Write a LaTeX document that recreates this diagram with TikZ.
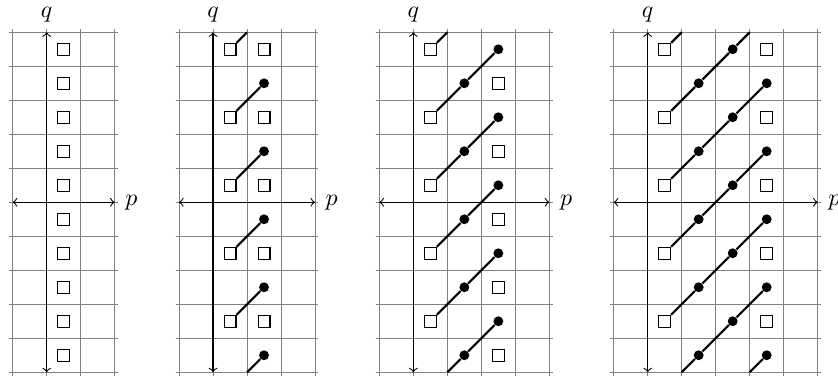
\documentclass[tikz,border=0pt]{standalone}
\begin{document}
\tikzset{
  sq/.style={draw,fill=white,line width=0.45pt,minimum size=0.175cm,inner sep=0pt},
  dotn/.style={circle,fill=black,minimum size=0.145cm,inner sep=0pt},
  link/.style={line width=0.9pt},
  gridl/.style={gray,line width=0.4pt,step=0.5cm},
  axis/.style={<->,line width=0.45pt},
  lbl/.style={inner sep=0pt}
}
\begin{tikzpicture}[x=0.5cm,y=0.5cm]
\useasboundingbox (0,-5.14) rectangle (24.65,5.95);
% ---------- panel 1
\begin{scope}[shift={(1.373,0)}]
  \draw[gridl] (-1.1,-5.1) grid (2.1,5.1);
  \coordinate (a1l) at (-1,0); \coordinate (a1r) at (2,0);
  \coordinate (a1b) at (0,-5); \coordinate (a1t) at (0,5);
  \draw[axis] (a1l) -- (a1r);
  \draw[axis] (a1b) -- (a1t);
  \node[lbl,anchor=west] (p1) at (2.3,0) {$p$};
  \node[lbl] (q1) at (0,5.52) {$q$};
  \foreach \k in {-5,...,4} \node[sq] (s1\k) at (0.5,\k+0.5) {};
\end{scope}
% ---------- panel 2
\begin{scope}[shift={(6.266,0)}]
  \draw[gridl] (-1.1,-5.1) grid (3.1,5.1);
  \coordinate (a2l) at (-1,0); \coordinate (a2r) at (3,0);
  \coordinate (a2b) at (0,-5); \coordinate (a2t) at (0,5);
  \draw[axis] (a2l) -- (a2r);
  \draw[axis] (a2b) -- (a2t);
  \node[lbl,anchor=west] (p2) at (3.3,0) {$p$};
  \node[lbl] (q2) at (0,5.52) {$q$};
  \foreach \j in {-2,...,2} {
    \node[sq] (p2a\j) at (0.5,2*\j+0.5) {};
    \node[sq] (p2e\j) at (1.5,2*\j+0.5) {};
    \node[dotn] (p2b\j) at (1.5,2*\j-0.5) {};
  }
  \coordinate (p2top) at (1,5); \coordinate (p2bot) at (1,-5);
  \draw[link] (p2a2) -- (p2top);
  \draw[link] (p2bot) -- (p2b-2);
  \foreach \j [evaluate=\j as \n using int(\j+1)] in {-2,...,1}
    \draw[link] (p2a\j) -- (p2b\n);
\end{scope}
% ---------- panel 3
\begin{scope}[shift={(12.159,0)}]
  \draw[gridl] (-1.1,-5.1) grid (4.1,5.1);
  \coordinate (a3l) at (-1,0); \coordinate (a3r) at (4,0);
  \coordinate (a3b) at (0,-5); \coordinate (a3t) at (0,5);
  \draw[axis] (a3l) -- (a3r);
  \draw[axis] (a3b) -- (a3t);
  \node[lbl,anchor=west] (p3) at (4.3,0) {$p$};
  \node[lbl] (q3) at (0,5.52) {$q$};
  \foreach \j in {-2,...,2} {
    \node[sq] (p3a\j) at (0.5,2*\j+0.5) {};
    \node[dotn] (p3b\j) at (1.5,2*\j-0.5) {};
    \node[dotn] (p3c\j) at (2.5,2*\j+0.5) {};
    \node[sq] (p3d\j) at (2.5,2*\j-0.5) {};
  }
  \coordinate (p3top) at (1,5); \coordinate (p3bot) at (1,-5);
  \draw[link] (p3a2) -- (p3top);
  \draw[link] (p3bot) -- (p3b-2) -- (p3c-2);
  \foreach \j [evaluate=\j as \n using int(\j+1)] in {-2,...,1}
    \draw[link] (p3a\j) -- (p3b\n) -- (p3c\n);
\end{scope}
% ---------- panel 4
\begin{scope}[shift={(19.052,0)}]
  \draw[gridl] (-1.1,-5.1) grid (5.1,5.1);
  \coordinate (a4l) at (-1,0); \coordinate (a4r) at (5,0);
  \coordinate (a4b) at (0,-5); \coordinate (a4t) at (0,5);
  \draw[axis] (a4l) -- (a4r);
  \draw[axis] (a4b) -- (a4t);
  \node[lbl,anchor=west] (p4) at (5.3,0) {$p$};
  \node[lbl] (q4) at (0,5.52) {$q$};
  \foreach \j in {-2,...,2} {
    \node[sq] (p4a\j) at (0.5,2*\j+0.5) {};
    \node[dotn] (p4b\j) at (1.5,2*\j-0.5) {};
    \node[dotn] (p4c\j) at (2.5,2*\j+0.5) {};
    \node[sq] (p4e\j) at (3.5,2*\j+0.5) {};
    \node[dotn] (p4f\j) at (3.5,2*\j-0.5) {};
  }
  \coordinate (p4top) at (1,5); \coordinate (p4bot) at (1,-5);
  \coordinate (p4topb) at (3,5); \coordinate (p4botb) at (3,-5);
  \draw[link] (p4a2) -- (p4top);
  \draw[link] (p4a1) -- (p4b2) -- (p4c2) -- (p4topb);
  \draw[link] (p4bot) -- (p4b-2) -- (p4c-2) -- (p4f-1);
  \draw[link] (p4botb) -- (p4f-2);
  \foreach \j [evaluate=\j as \n using int(\j+1),evaluate=\j as \m using int(\j+2)] in {-2,...,0}
    \draw[link] (p4a\j) -- (p4b\n) -- (p4c\n) -- (p4f\m);
\end{scope}
\end{tikzpicture}
\end{document}
